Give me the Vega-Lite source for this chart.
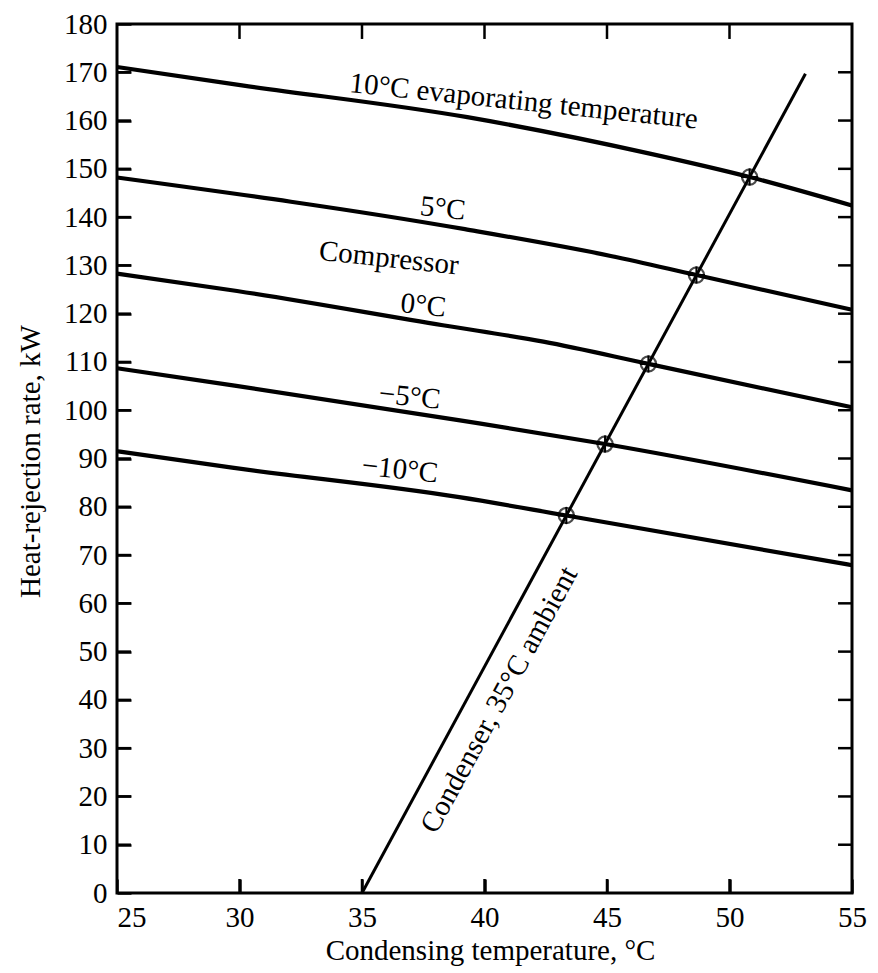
{
  "$schema": "https://vega.github.io/schema/vega-lite/v6.json",
  "width": 735,
  "height": 869,
  "padding": {"left": 117, "top": 24, "right": 26, "bottom": 80},
  "autosize": {"type": "none"},
  "background": "white",
  "config": {
    "view": {"stroke": "black", "strokeWidth": 3},
    "font": "Liberation Serif"
  },
  "datasets": {
    "curves": [
      {"evap": "10", "t": 25, "q": 171.1},
      {"evap": "10", "t": 30.1, "q": 167.3},
      {"evap": "10", "t": 39.3, "q": 160.7},
      {"evap": "10", "t": 46.7, "q": 153.2},
      {"evap": "10", "t": 50.82, "q": 148.3},
      {"evap": "10", "t": 55, "q": 142.4},
      {"evap": "5", "t": 25, "q": 148.2},
      {"evap": "5", "t": 39.2, "q": 137.5},
      {"evap": "5", "t": 45.2, "q": 131.9},
      {"evap": "5", "t": 48.65, "q": 128.0},
      {"evap": "5", "t": 55, "q": 120.8},
      {"evap": "0", "t": 25, "q": 128.3},
      {"evap": "0", "t": 29.9, "q": 124.7},
      {"evap": "0", "t": 38.3, "q": 117.6},
      {"evap": "0", "t": 42.4, "q": 114.2},
      {"evap": "0", "t": 46.69, "q": 109.6},
      {"evap": "0", "t": 55, "q": 100.6},
      {"evap": "-5", "t": 25, "q": 108.7},
      {"evap": "-5", "t": 29.8, "q": 105.1},
      {"evap": "-5", "t": 39.0, "q": 97.9},
      {"evap": "-5", "t": 44.92, "q": 93.0},
      {"evap": "-5", "t": 55, "q": 83.4},
      {"evap": "-10", "t": 25, "q": 91.5},
      {"evap": "-10", "t": 29.7, "q": 88.1},
      {"evap": "-10", "t": 38.97, "q": 82.0},
      {"evap": "-10", "t": 43.34, "q": 78.2},
      {"evap": "-10", "t": 55, "q": 67.9}
    ],
    "cond": [
      {"t": 35, "q": 0},
      {"t": 53.1, "q": 169.7}
    ],
    "pts": [
      {"t": 43.34, "q": 78.2},
      {"t": 44.92, "q": 93.0},
      {"t": 46.69, "q": 109.6},
      {"t": 48.65, "q": 128.0},
      {"t": 50.82, "q": 148.3}
    ],
    "annot": [
      {"text": "10°C evaporating temperature", "t": 41.6, "q": 164.0},
      {"text": "5°C", "t": 38.3, "q": 141.8},
      {"text": "Compressor", "t": 36.1, "q": 131.5},
      {"text": "0°C", "t": 37.5, "q": 121.7},
      {"text": "−5°C", "t": 36.95, "q": 102.8},
      {"text": "−10°C", "t": 36.55, "q": 87.7}
    ],
    "condlabel": [
      {"text": "Condenser, 35°C ambient", "t": 40.6, "q": 40.0}
    ],
    "xticks": [
      {"t": 30}, {"t": 35}, {"t": 40}, {"t": 45}, {"t": 50}
    ],
    "yticks": [
      {"q": 10}, {"q": 20}, {"q": 30}, {"q": 40}, {"q": 50}, {"q": 60}, {"q": 70}, {"q": 80}, {"q": 90},
      {"q": 100}, {"q": 110}, {"q": 120}, {"q": 130}, {"q": 140}, {"q": 150}, {"q": 160}, {"q": 170}
    ]
  },
  "resolve": {"axis": {"x": "independent", "y": "independent"}},
  "layer": [
    {
      "data": {"name": "cond"},
      "mark": {"type": "line", "color": "black", "strokeWidth": 3},
      "encoding": {
        "x": {
          "field": "t", "type": "quantitative",
          "scale": {"domain": [25, 55], "nice": false, "zero": false},
          "axis": {
            "orient": "bottom", "zindex": 1,
            "values": [25, 30, 35, 40, 45, 50, 55],
            "ticks": true, "tickSize": -14, "tickWidth": 2.5, "tickColor": "#000000",
            "domain": false, "grid": false,
            "labelFont": "Liberation Serif", "labelFontSize": 29, "labelColor": "black",
            "labelPadding": 24,
            "labelAlign": {"expr": "datum.value == 25 ? 'left' : 'center'"},
            "title": "Condensing temperature, °C",
            "titleFont": "Liberation Serif", "titleFontSize": 29, "titleFontWeight": "normal", "titleColor": "black",
            "titleX": 373, "titleY": 57, "titleAlign": "center", "titleBaseline": "middle"
          }
        },
        "y": {
          "field": "q", "type": "quantitative",
          "scale": {"domain": [0, 180], "nice": false},
          "axis": {
            "orient": "left", "zindex": 1,
            "values": [0, 10, 20, 30, 40, 50, 60, 70, 80, 90, 100, 110, 120, 130, 140, 150, 160, 170, 180],
            "ticks": true, "tickSize": -14, "tickWidth": 2.5, "tickColor": "#000000",
            "domain": false, "grid": false,
            "labelFont": "Liberation Serif", "labelFontSize": 29, "labelColor": "black",
            "labelPadding": 24,
            "title": "Heat-rejection rate, kW",
            "titleFont": "Liberation Serif", "titleFontSize": 29, "titleFontWeight": "normal", "titleColor": "black",
            "titleX": -87, "titleY": 437, "titleAlign": "center", "titleBaseline": "middle", "titleAngle": 270
          }
        }
      }
    },
    {
      "layer": [
        {
          "data": {"name": "curves"},
          "mark": {"type": "line", "color": "black", "strokeWidth": 4.2, "interpolate": "monotone"},
          "encoding": {
            "x": {
              "field": "t", "type": "quantitative",
              "axis": {
                "orient": "top", "zindex": 1,
                "values": [30, 35, 40, 45, 50],
                "ticks": true, "tickSize": -15, "tickWidth": 2.5, "tickColor": "#000000",
                "domain": false, "grid": false, "labels": false, "title": null
              }
            },
            "y": {
              "field": "q", "type": "quantitative",
              "axis": {
                "orient": "right", "zindex": 1,
                "values": [10, 20, 30, 40, 50, 60, 70, 80, 90, 100, 110, 120, 130, 140, 150, 160, 170],
                "ticks": true, "tickSize": -14, "tickWidth": 2.5, "tickColor": "#000000",
                "domain": false, "grid": false, "labels": false, "title": null
              }
            },
            "detail": {"field": "evap"},
            "order": {"field": "t", "type": "quantitative"}
          }
        },
        {
          "data": {"name": "xticks"},
          "mark": {"type": "rule", "color": "black", "strokeWidth": 2.5},
          "encoding": {
            "x": {"field": "t", "type": "quantitative", "axis": null},
            "y": {"datum": 0, "type": "quantitative", "axis": null},
            "y2": {"datum": 2.9}
          }
        },
        {
          "data": {"name": "xticks"},
          "mark": {"type": "rule", "color": "black", "strokeWidth": 2.5},
          "encoding": {
            "x": {"field": "t", "type": "quantitative", "axis": null},
            "y": {"datum": 180, "type": "quantitative", "axis": null},
            "y2": {"datum": 176.9}
          }
        },
        {
          "data": {"name": "yticks"},
          "mark": {"type": "rule", "color": "black", "strokeWidth": 2.5},
          "encoding": {
            "y": {"field": "q", "type": "quantitative", "axis": null},
            "x": {"datum": 25, "type": "quantitative", "axis": null},
            "x2": {"datum": 25.57}
          }
        },
        {
          "data": {"name": "yticks"},
          "mark": {"type": "rule", "color": "black", "strokeWidth": 2.5},
          "encoding": {
            "y": {"field": "q", "type": "quantitative", "axis": null},
            "x": {"datum": 55, "type": "quantitative", "axis": null},
            "x2": {"datum": 54.43}
          }
        },
        {
          "data": {"name": "pts"},
          "mark": {"type": "point", "shape": "circle", "filled": false, "stroke": "black", "strokeWidth": 2.2, "size": 230},
          "encoding": {
            "x": {"field": "t", "type": "quantitative", "axis": null},
            "y": {"field": "q", "type": "quantitative", "axis": null}
          }
        },
        {
          "data": {"name": "pts"},
          "mark": {"type": "point", "shape": "M-1,0H1M0,-1V1", "filled": false, "stroke": "black", "strokeWidth": 2, "size": 289, "opacity": 1},
          "encoding": {
            "x": {"field": "t", "type": "quantitative", "axis": null},
            "y": {"field": "q", "type": "quantitative", "axis": null}
          }
        },
        {
          "data": {"name": "annot"},
          "mark": {"type": "text", "font": "Liberation Serif", "fontSize": 29, "color": "black", "angle": 6, "align": "center", "baseline": "middle"},
          "encoding": {
            "x": {"field": "t", "type": "quantitative", "axis": null},
            "y": {"field": "q", "type": "quantitative", "axis": null},
            "text": {"field": "text"}
          }
        },
        {
          "data": {"name": "condlabel"},
          "mark": {"type": "text", "font": "Liberation Serif", "fontSize": 29, "color": "black", "angle": 298.5, "align": "center", "baseline": "middle"},
          "encoding": {
            "x": {"field": "t", "type": "quantitative", "axis": null},
            "y": {"field": "q", "type": "quantitative", "axis": null},
            "text": {"field": "text"}
          }
        }
      ]
    }
  ]
}
